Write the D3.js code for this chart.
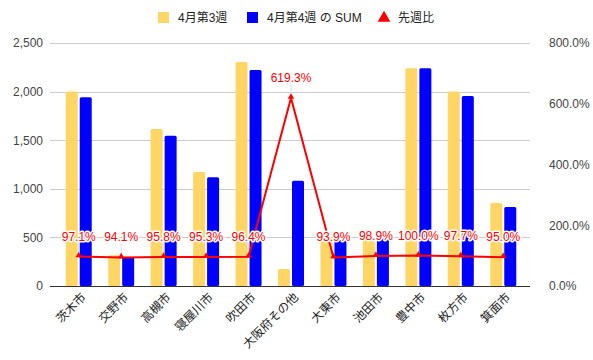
<!DOCTYPE html>
<html><head><meta charset="utf-8">
<script src="https://cdn.jsdelivr.net/npm/d3@7"></script>
<style>
body{margin:0;background:#fff;}
text{font-family:Arial,"Liberation Sans","Noto Sans CJK JP",sans-serif;}
</style></head>
<body><svg id="c" width="593" height="360"></svg>
<script>
const categories = ["茨木市","交野市","高槻市","寝屋川市","吹田市","大阪府その他","大東市","池田市","豊中市","枚方市","箕面市"];
const week3 = [2000, 317, 1615, 1173, 2305, 175, 504, 494, 2240, 2000, 855];
const week4 = [1943, 298, 1547, 1118, 2222, 1084, 473, 489, 2240, 1954, 812];
const ratio = [97.1, 94.1, 95.8, 95.3, 96.4, 619.3, 93.9, 98.9, 100.0, 97.7, 95.0];
const ratioLabels = ["97.1%","94.1%","95.8%","95.3%","96.4%","619.3%","93.9%","98.9%","100.0%","97.7%","95.0%"];
const leftTicks = [0, 500, 1000, 1500, 2000, 2500];
const rightTicks = [0, 200, 400, 600, 800];
const legendNames = ["4月第3週","4月第4週 の SUM","先週比"];
const colors = {y:"#ffd666", b:"#0000ff", r:"#ff0000"};

const svg = d3.select("#c");
const pTop = 43, pBottom = 286, gx0 = 50, gx1 = 530;
const x = d3.scaleBand().domain(categories).range([57.5, 524.5]).padding(0);
const yL = d3.scaleLinear().domain([0, 2500]).range([pBottom, pTop]);
const yR = d3.scaleLinear().domain([0, 800]).range([pBottom, pTop]);

// gridlines
svg.append("g").selectAll("line").data(leftTicks.filter(d=>d>0)).join("line")
  .attr("x1", gx0).attr("x2", gx1).attr("y1", d=>Math.round(yL(d))+0.5).attr("y2", d=>Math.round(yL(d))+0.5)
  .attr("stroke", "#cccccc").attr("stroke-width", 1);

// left axis labels
const axL = d3.axisLeft(yL).tickValues(leftTicks).tickSize(0).tickFormat(d3.format(","));
const gL = svg.append("g").attr("transform", `translate(${gx0-4},0)`).call(axL);
gL.select(".domain").remove();
gL.selectAll("text").attr("font-size", 12).attr("fill", "#444");

// right axis labels
const axR = d3.axisRight(yR).tickValues(rightTicks).tickSize(0).tickFormat(d=>d3.format(".1f")(d)+"%");
const gR = svg.append("g").attr("transform", `translate(${gx1+16},0)`).call(axR);
gR.select(".domain").remove();
gR.selectAll("text").attr("font-size", 12).attr("fill", "#444");

// bars
const bw = 12, gap = 2;
const gb = svg.append("g");
gb.selectAll("rect.y").data(categories).join("rect").attr("class","y")
  .attr("x", d=>x(d)+x.bandwidth()/2 - bw - gap/2).attr("width", bw)
  .attr("y", (d,i)=>yL(week3[i])).attr("height", (d,i)=>pBottom - yL(week3[i]))
  .attr("fill", colors.y).attr("rx", 1.5);
gb.selectAll("rect.b").data(categories).join("rect").attr("class","b")
  .attr("x", d=>x(d)+x.bandwidth()/2 + gap/2).attr("width", bw)
  .attr("y", (d,i)=>yL(week4[i])).attr("height", (d,i)=>pBottom - yL(week4[i]))
  .attr("fill", colors.b).attr("rx", 1.5);

// baseline
svg.append("line").attr("x1", gx0).attr("x2", gx1).attr("y1", pBottom+0.5).attr("y2", pBottom+0.5)
  .attr("stroke", "#333").attr("stroke-width", 1);

// x labels
const axX = d3.axisBottom(x).tickSize(0);
const gX = svg.append("g").attr("transform", `translate(0,${pBottom})`).call(axX);
gX.select(".domain").remove();
gX.selectAll("text").attr("font-size", 12).attr("fill", "#222")
  .attr("text-anchor", "end").attr("y", 0).attr("dy", "0.35em")
  .attr("transform", "translate(5,9) rotate(-45)");

// ratio line
const cx = d => x(d) + x.bandwidth()/2;
const pts = categories.map((c,i)=>[cx(c), yR(ratio[i])]);
// annotation stems
svg.append("g").selectAll("line").data(pts).join("line")
  .attr("x1", d=>d[0]).attr("x2", d=>d[0]).attr("y1", d=>d[1]-14).attr("y2", d=>d[1])
  .attr("stroke", "#dddddd").attr("stroke-width", 1);
svg.append("path").datum(pts).attr("d", d3.line())
  .attr("fill", "none").attr("stroke", colors.r).attr("stroke-width", 2);
const tri = d3.symbol().type(d3.symbolTriangle).size(18);
svg.append("g").selectAll("path").data(pts).join("path")
  .attr("d", tri).attr("transform", d=>`translate(${d[0]},${d[1]-1})`).attr("fill", colors.r);
// labels
svg.append("g").selectAll("text").data(pts).join("text")
  .attr("x", d=>d[0]).attr("y", d=>d[1]-16).attr("text-anchor","middle")
  .attr("font-size", 12).attr("fill", colors.r)
  .attr("stroke", "#fff").attr("stroke-width", 3).attr("paint-order", "stroke").attr("stroke-linejoin","round")
  .text((d,i)=>ratioLabels[i]);

// legend
const lg = svg.append("g");
const items = [{x:158, t:"rect", c:colors.y},{x:247, t:"rect", c:colors.b},{x:378, t:"tri", c:colors.r}];
items.forEach((it,i)=>{
  if(it.t==="rect") lg.append("rect").attr("x", it.x).attr("y", 12).attr("width", 11).attr("height", 11).attr("fill", it.c);
  else lg.append("path").attr("d", d3.symbol().type(d3.symbolTriangle).size(70)()).attr("transform", `translate(${it.x+6},${18})`).attr("fill", it.c);
  lg.append("text").attr("x", it.x+20).attr("y", 22).attr("font-size", 12).attr("fill", "#222").text(legendNames[i]);
});
</script></body></html>
